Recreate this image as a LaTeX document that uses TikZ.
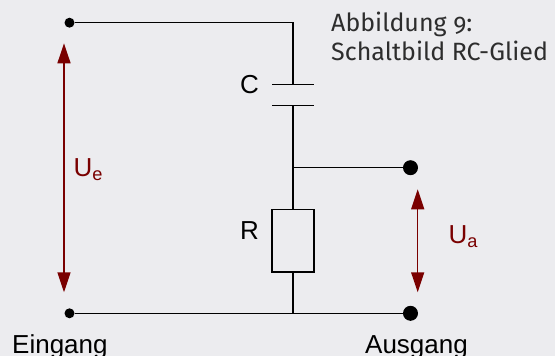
\documentclass[tikz,border=0pt]{standalone}
\usepackage{fontspec}
\setmainfont{Liberation Sans}
\newfontfamily\titlefont[Numbers=OldStyle]{Fira Sans}
\usetikzlibrary{arrows.meta,positioning}

\definecolor{bgcol}{RGB}{236,236,239}
\definecolor{volt}{RGB}{122,0,0}
\definecolor{titlecol}{RGB}{45,45,45}

\tikzset{
  wire/.style={line width=1.5pt, black},
  smalldot/.style={shape=circle, fill=black, inner sep=0pt, minimum size=10pt},
  bigdot/.style={shape=circle, fill=black, inner sep=0pt, minimum size=15pt},
  voltage/.style={line width=1.4pt, volt, {Triangle[length=20pt,width=13pt]}-{Triangle[length=20pt,width=13pt]}},
  lbl/.style={font=\fontsize{26}{30}\selectfont, inner sep=0pt},
  titletext/.style={font=\titlefont\fontsize{25}{29}\selectfont, text=titlecol, anchor=base west, inner sep=0pt}
}

\begin{document}
\begin{tikzpicture}[x=1pt, y=-1pt]
      \fill[bgcol] (0,0) rectangle (555,356);
      \useasboundingbox (0,0) rectangle (555,356);

      % terminals
      \node[smalldot] (InTop) at (69.5,22.7) {};
      \node[smalldot] (InBot) at (69.5,313.3) {};
      \node[bigdot] (OutTop) at (410.5,167.7) {};
      \node[bigdot] (OutBot) at (410.5,313.3) {};

      % corners and junctions
      \coordinate (Corner) at (293,22.7);
      \coordinate (CTop) at (293,84.5);
      \coordinate (CBot) at (293,105.7);
      \coordinate (Junc) at (293,167.7);
      \coordinate (Ground) at (293,313.3);

      % resistor
      \node[draw=black, line width=1.5pt, minimum width=42pt, minimum height=62.7pt,
            inner sep=0pt] (Res) at (293,240.7) {};

      % wires
      \draw[wire] (InTop) -- (Corner) -- (CTop);
      \draw[wire] (CBot) -- (Res.north);
      \draw[wire] (Junc) -- (OutTop);
      \draw[wire] (Res.south) -- (Ground);
      \draw[wire] (InBot) -- (OutBot);

      % capacitor plates
      \draw[wire] ([xshift=-21pt]CTop) -- ([xshift=21pt]CTop);
      \draw[wire] ([xshift=-21pt]CBot) -- ([xshift=21pt]CBot);

      % voltages
      \coordinate (UeTop) at (64,43.3);
      \coordinate (UeBot) at (64,292.3);
      \coordinate (UaTop) at (417.7,189.3);
      \coordinate (UaBot) at (417.7,292.3);
      \draw[voltage] (UeTop) -- (UeBot);
      \draw[voltage] (UaTop) -- (UaBot);

      % labels
      \node[lbl, anchor=base] (CLabel) at (249.5,93.3) {C};
      \node[lbl, anchor=base] (RLabel) at (249.5,239.3) {R};
      \node[lbl, text=volt, anchor=base west] (UeLabel) at (73.5,176.7) {U\textsubscript{e}};
      \node[lbl, text=volt, anchor=base west] (UaLabel) at (448.5,243.5) {U\textsubscript{a}};
      \node[lbl, anchor=base west] (InLabel) at (12,353.5) {Eingang};
      \node[lbl, anchor=base west] (OutLabel) at (365,353.5) {Ausgang};

      % title
      \node[titletext] (Title1) at (331,31.7) {Abbildung 9:};
      \node[titletext] (Title2) at (331,60.7) {Schaltbild RC-Glied};
\end{tikzpicture}
\end{document}
